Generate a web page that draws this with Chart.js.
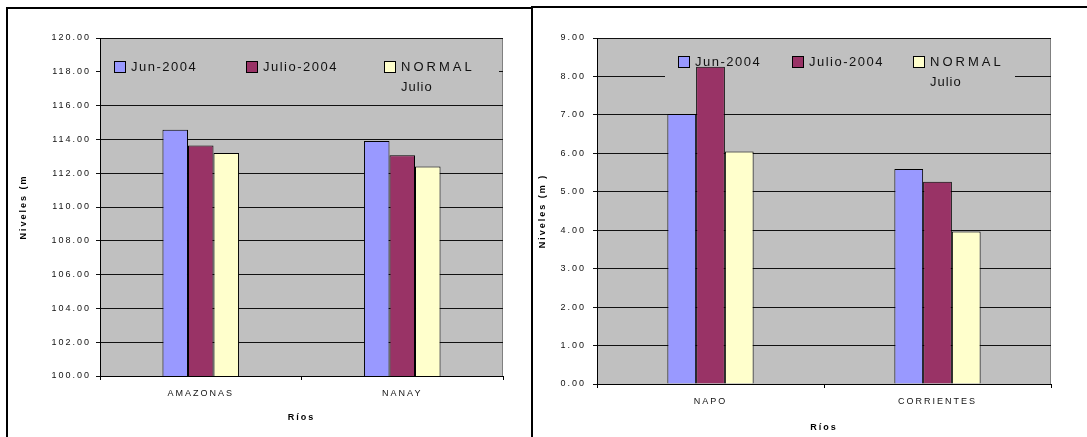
<!DOCTYPE html>
<html>
<head>
<meta charset="utf-8">
<script src="https://cdn.jsdelivr.net/npm/chart.js@4/dist/chart.umd.min.js"></script>
<style>
body{margin:0;background:#fff;width:1087px;height:437px;overflow:hidden;position:relative}
.frame{position:absolute;box-sizing:border-box;border:2px solid #000}
canvas{position:absolute}
</style>
</head>
<body>
<div class="frame" style="left:6px;top:7px;width:527px;height:450px"></div>
<div class="frame" style="left:531px;top:6px;width:600px;height:450px"></div>
<canvas id="left" width="522" height="428" style="left:8px;top:9px"></canvas>
<canvas id="right" width="554" height="429" style="left:533px;top:8px"></canvas>
<script>
const series = ['Jun-2004', 'Julio-2004', 'NORMAL Julio'];
const colors = ['#9999ff', '#993366', '#ffffcc'];

const leftRivers = ['AMAZONAS', 'NANAY'];
const leftJun = [114.57, 113.90];
const leftJulio = [113.64, 113.06];
const leftNormal = [113.19, 112.39];

const rightRivers = ['NAPO', 'CORRIENTES'];
const rightJun = [7.02, 5.59];
const rightJulio = [8.25, 5.26];
const rightNormal = [6.05, 3.97];

Chart.defaults.font.family = 'Arial, "Liberation Sans", sans-serif';
Chart.defaults.color = '#111';

// gray plot area + letter spacing for all chart text
const plotBack = {
  id: 'plotBack',
  beforeDraw(chart) {
    const {ctx, chartArea: a} = chart;
    ctx.letterSpacing = '2px';
    ctx.save();
    ctx.fillStyle = '#c0c0c0';
    ctx.fillRect(a.left, a.top, a.width, a.height);
    ctx.strokeStyle = '#808080';
    ctx.lineWidth = 1;
    ctx.strokeRect(a.left + 0.5, a.top + 0.5, a.width - 1, a.height);
    ctx.restore();
  }
};

// legend sitting inside the plot, drawn over the grid but under the bars
const boxLegend = {
  id: 'boxLegend',
  beforeDatasetsDraw(chart, args, opts) {
    const {ctx, chartArea: a} = chart;
    ctx.save();
    ctx.fillStyle = '#c0c0c0';
    ctx.fillRect(a.left + opts.box[0], a.top + opts.box[1], opts.box[2], opts.box[3]);
    ctx.font = '13px Arial, "Liberation Sans", sans-serif';
    ctx.textBaseline = 'middle';
    chart.data.datasets.forEach((ds, i) => {
      const x = Math.round(a.left + opts.items[i]);
      const y = Math.round(a.top + opts.line1);
      ctx.fillStyle = ds.backgroundColor;
      ctx.fillRect(x + 0.5, y - 5.5, 11, 11);
      ctx.strokeStyle = '#000';
      ctx.lineWidth = 1;
      ctx.strokeRect(x + 0.5, y - 5.5, 11, 11);
      const words = ds.label.split(' ');
      ctx.fillStyle = '#111';
      ctx.letterSpacing = words.length > 1 ? '3px' : '1.5px';
      ctx.fillText(words[0], x + 17, y);
      if (words[1]) {
        ctx.letterSpacing = '1px';
        ctx.fillText(words[1], x + 17, a.top + opts.line2);
      }
    });
    ctx.restore();
  }
};

function makeChart(id, rivers, jun, julio, normal, s) {
  new Chart(document.getElementById(id), {
    type: 'bar',
    data: {
      labels: rivers,
      datasets: [jun, julio, normal].map((d, i) => ({
        label: series[i],
        data: d,
        backgroundColor: colors[i],
        borderColor: '#000',
        borderWidth: 1,
        barPercentage: 1,
        categoryPercentage: 0.38
      }))
    },
    options: {
      responsive: false,
      animation: false,
      layout: {padding: {top: s.top, right: s.right, left: 0, bottom: 0}},
      plugins: {
        legend: {display: false},
        tooltip: {enabled: false},
        boxLegend: s.legend
      },
      scales: {
        x: {
          ticks: {padding: 8, font: {size: 9}, color: '#111'},
          grid: {offset: true, drawOnChartArea: false, tickLength: 4, color: '#000'},
          border: {color: '#000'},
          title: {display: true, text: 'Ríos', color: '#000', font: {size: 9, weight: 'bold'}, padding: {bottom: s.titleBottom}},
          afterFit: sc => { sc.height = s.xHeight; }
        },
        y: {
          min: s.min,
          max: s.max,
          ticks: {stepSize: s.step, padding: s.tickPad, font: {size: 9}, color: '#111', callback: v => v.toFixed(2)},
          grid: {color: '#111', tickLength: 4},
          border: {color: '#000'},
          title: {display: true, text: s.yTitle, color: '#000', font: {size: 9, weight: 'bold'}, padding: {top: s.titleTop}},
          afterFit: sc => { sc.width = s.yWidth; }
        }
      }
    },
    plugins: [plotBack, boxLegend]
  });
}

makeChart('left', leftRivers, leftJun, leftJulio, leftNormal, {
  min: 100, max: 120, step: 2,
  top: 29, right: 27, yWidth: 92, xHeight: 61,
  tickPad: 5, titleTop: 10, titleBottom: 13.6,
  yTitle: 'Niveles (m',
  legend: {box: [1, 7, 398, 55], items: [14, 146, 284], line1: 29, line2: 49}
});

makeChart('right', rightRivers, rightJun, rightJulio, rightNormal, {
  min: 0, max: 9, step: 1,
  top: 30, right: 36, yWidth: 64, xHeight: 53,
  tickPad: 7, titleTop: 4, titleBottom: 3.6,
  yTitle: 'Niveles (m )',
  legend: {box: [68, 7, 350, 55], items: [81, 195, 316], line1: 24, line2: 44}
});
</script>
</body>
</html>
